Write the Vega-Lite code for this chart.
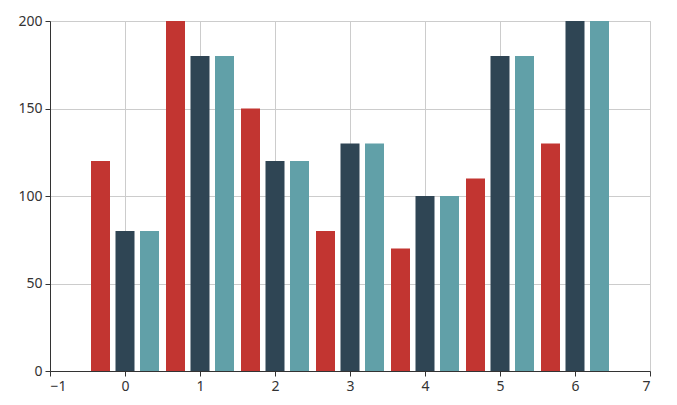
{
  "$schema": "https://vega.github.io/schema/vega-lite/v6.json",
  "autosize": {"type": "none"},
  "width": 600,
  "height": 350,
  "padding": {"left": 50, "top": 21, "right": 27, "bottom": 34},
  "background": "#ffffff",
  "config": {
    "view": {"stroke": "#cccccc", "strokeWidth": 1},
    "font": "Noto Sans",
    "axis": {
      "labelFont": "Noto Sans",
      "labelFontSize": 14,
      "labelColor": "#333333",
      "domainColor": "#333333",
      "tickColor": "#333333",
      "tickSize": 5,
      "gridColor": "#cccccc",
      "gridWidth": 1,
      "labelPadding": 3
    }
  },
  "data": {
    "values": [
      {"x": 0, "series": "a", "value": 120},
      {"x": 0, "series": "b", "value": 80},
      {"x": 0, "series": "c", "value": 80},
      {"x": 1, "series": "a", "value": 200},
      {"x": 1, "series": "b", "value": 180},
      {"x": 1, "series": "c", "value": 180},
      {"x": 2, "series": "a", "value": 150},
      {"x": 2, "series": "b", "value": 120},
      {"x": 2, "series": "c", "value": 120},
      {"x": 3, "series": "a", "value": 80},
      {"x": 3, "series": "b", "value": 130},
      {"x": 3, "series": "c", "value": 130},
      {"x": 4, "series": "a", "value": 70},
      {"x": 4, "series": "b", "value": 100},
      {"x": 4, "series": "c", "value": 100},
      {"x": 5, "series": "a", "value": 110},
      {"x": 5, "series": "b", "value": 180},
      {"x": 5, "series": "c", "value": 180},
      {"x": 6, "series": "a", "value": 130},
      {"x": 6, "series": "b", "value": 200},
      {"x": 6, "series": "c", "value": 200}
    ]
  },
  "encoding": {
    "x": {
      "field": "x",
      "type": "quantitative",
      "scale": {"domain": [-1, 7], "nice": false, "zero": false, "padding": 0},
      "axis": {"title": null, "values": [-1, 0, 1, 2, 3, 4, 5, 6, 7], "grid": true}
    },
    "y": {
      "field": "value",
      "type": "quantitative",
      "stack": null,
      "scale": {"domain": [0, 200], "nice": false},
      "axis": {"title": null, "values": [0, 50, 100, 150, 200], "grid": true}
    },
    "color": {
      "field": "series",
      "type": "nominal",
      "scale": {"domain": ["a", "b", "c"], "range": ["#c23531", "#2f4554", "#61a0a8"]},
      "legend": null
    }
  },
  "layer": [
    {
      "transform": [{"filter": "datum.series === 'a'"}],
      "mark": {"type": "bar", "width": 19, "clip": true, "xOffset": -24.5}
    },
    {
      "transform": [{"filter": "datum.series === 'b'"}],
      "mark": {"type": "bar", "width": 19, "clip": true, "xOffset": 0}
    },
    {
      "transform": [{"filter": "datum.series === 'c'"}],
      "mark": {"type": "bar", "width": 19, "clip": true, "xOffset": 24.5}
    }
  ]
}
